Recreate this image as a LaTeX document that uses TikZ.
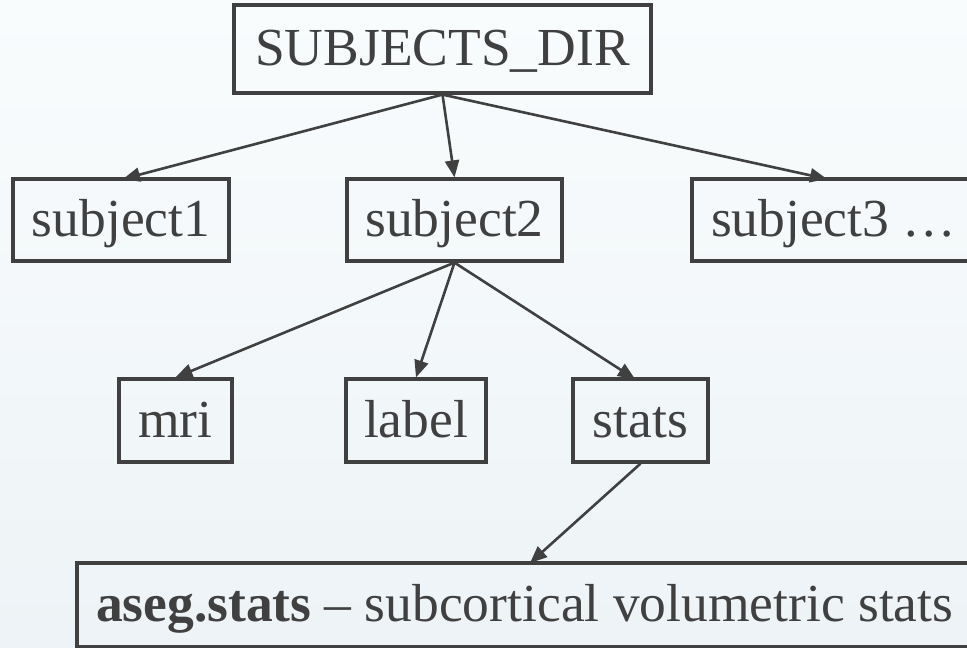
\documentclass[tikz,border=0pt]{standalone}
\usepackage{fontspec}
\setmainfont{Liberation Serif}
\usetikzlibrary{arrows.meta}
\definecolor{ink}{HTML}{404040}
\definecolor{bgtop}{HTML}{F9FCFD}
\definecolor{bgbot}{HTML}{EDF3F6}
\tikzset{
  box/.style={draw=ink, line width=3.2pt, text=ink, inner xsep=0pt, inner ysep=0pt,
    font=\fontsize{53.5}{60}\selectfont, text height=37pt, text depth=3.5pt},
  conn/.style={draw=ink, line width=2.6pt, -{Triangle[length=17pt,width=14pt]}}
}
\begin{document}
\begin{tikzpicture}[x=1pt,y=-1pt]
\useasboundingbox (0,0) rectangle (967,648);
\shade[top color=bgtop, bottom color=bgbot] (0,0) rectangle (967,648);
\clip (0,0) rectangle (967,648);
\node[box, minimum width=417pt, minimum height=88pt] (root) at (442.5,49) {SUBJECTS\_DIR};
\node[box, minimum width=216pt, minimum height=82pt] (s1) at (121,220) {subject1};
\node[box, minimum width=215pt, minimum height=82pt] (s2) at (454.5,220) {subject2};
\node[box, inner xsep=19pt, minimum height=82pt] (s3) at (837,220) {\makebox[252pt][l]{subject3 \dots}};
\node[box, minimum width=113pt, minimum height=83pt] (mri) at (175.5,420.5) {mri};
\node[box, minimum width=140pt, minimum height=83pt] (lab) at (416,420.5) {label};
\node[box, minimum width=135pt, minimum height=83pt] (stats) at (640.5,420.5) {stats};
\node[box, inner xsep=19pt, minimum height=84pt] (aseg) at (547,605) {\makebox[902pt][l]{\textbf{aseg.stats} -- subcortical volumetric stats}};
\coordinate (s1in) at (123,179);
\coordinate (s3in) at (827,179);
\coordinate (statsin) at (635,379);
\coordinate (asegin) at (530,563);
\draw[conn] (root.south) -- (s1in);
\draw[conn] (root.south) -- (s2.north);
\draw[conn] (root.south) -- (s3in);
\draw[conn] (s2.south) -- (mri.north);
\draw[conn] (s2.south) -- (lab.north);
\draw[conn] (s2.south) -- (statsin);
\draw[conn] (stats.south) -- (asegin);
\end{tikzpicture}
\end{document}
